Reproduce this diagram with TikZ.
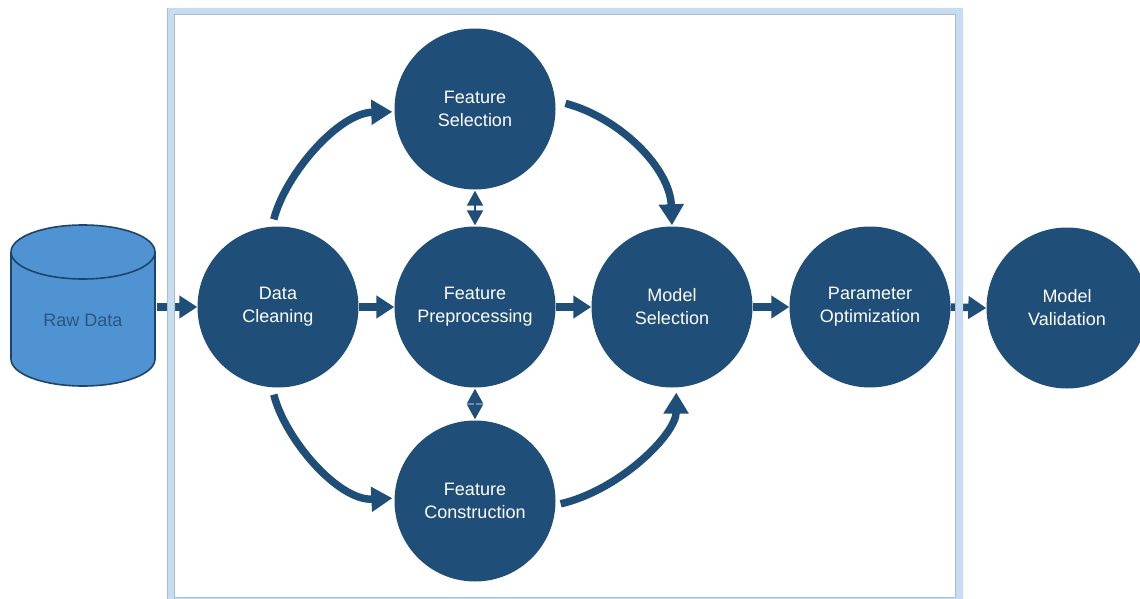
\documentclass[tikz,border=0pt]{standalone}
\usepackage{fontspec}
\setmainfont{Liberation Sans}
\usetikzlibrary{arrows.meta,calc}
\definecolor{nodeblue}{HTML}{1F4E79}
\definecolor{cylfill}{HTML}{5093D3}
\definecolor{cylline}{HTML}{1E4469}
\definecolor{cyltext}{HTML}{2A5682}
\definecolor{framec}{HTML}{C6DCF1}
\definecolor{frameedge}{HTML}{AEBDCC}
\tikzset{
  circnode/.style={circle, fill=nodeblue, minimum size=161pt, inner sep=0pt,
    text=white, align=center, font=\fontsize{18pt}{23pt}\selectfont},
  flowarrow/.style={draw=nodeblue, line width=7.5pt, -{Triangle[length=18pt,width=22pt]}},
  curvearrow/.style={draw=nodeblue, line width=7.5pt, -{Triangle[length=21pt,width=24pt]}},
  duoarrow/.style={draw=nodeblue, line width=2pt, {Triangle[length=15pt,width=16pt]}-{Triangle[length=15pt,width=16pt]}},
}
\begin{document}
\begin{tikzpicture}[x=1pt,y=-1pt]
\useasboundingbox (0,0) rectangle (1140,599);
% cylinder
\filldraw[fill=cylfill, draw=cylline, line width=1.6pt]
  (11,252) -- (11,359) .. controls (11,374) and (43,386) .. (83,386)
  .. controls (123,386) and (155,374) .. (155,359) -- (155,252)
  .. controls (155,237) and (123,225) .. (83,225)
  .. controls (43,225) and (11,237) .. (11,252) -- cycle;
\draw[cylline, line width=1.6pt] (11,252) .. controls (11,267) and (43,279) .. (83,279)
  .. controls (123,279) and (155,267) .. (155,252);
\node[text=cyltext, font=\fontsize{18pt}{23pt}\selectfont] (raw) at (83,320) {Raw Data};
\coordinate (rawr) at (157,307);
% nodes
\node[circnode] (dc) at (278,307) {Data\\Cleaning};
\node[circnode] (fs) at (475,109) {Feature\\Selection};
\node[circnode] (fp) at (475,307) {Feature\\Preprocessing};
\node[circnode] (fc) at (475,501) {Feature\\Construction};
\node[circnode] (ms) at (672,307) {Model\\Selection};
\node[circnode] (po) at (870,307) {Parameter\\Optimization};
\node[circnode] (mv) at (1067,308) {Model\\Validation};
% crossing arrows
\draw[flowarrow] (rawr) -- (dc.west);
\draw[flowarrow] (po.east) -- (mv.west);
% frame band
\fill[framec, even odd rule] (167,8) rectangle (963,602) (175,15) rectangle (955,597);
\draw[frameedge, line width=1pt] (167.5,602) -- (167.5,8.5);
\draw[frameedge, line width=1pt] (174.5,602) -- (174.5,14.5) -- (955.5,14.5) -- (955.5,597.5) -- (174.5,597.5);
% straight arrows
\draw[flowarrow] (dc.east) -- (fp.west);
\draw[flowarrow] (fp.east) -- (ms.west);
\draw[flowarrow] (ms.east) -- (po.west);
% double arrows
\draw[duoarrow] ([yshift=-1pt]fs.south) -- ([yshift=1pt]fp.north);
\draw[duoarrow] ([yshift=-1pt]fp.south) -- ([yshift=1pt]fc.north);
% curved arrows
\draw[curvearrow] ([yshift=7pt]dc.93) .. controls (285,175) and (338,113) .. ([xshift=-2pt]fs.182);
\draw[curvearrow] ([yshift=-7pt]dc.267) .. controls (285,439) and (338,501) .. ([xshift=-2pt]fc.178);
\draw[curvearrow] ([xshift=10pt]fs.4) .. controls (620,118) and (670,168) .. ([yshift=1pt]ms.north);
\draw[curvearrow] ([xshift=5pt]fc.358) .. controls (620,490) and (676,434) .. ([yshift=-5pt]ms.273);
\end{tikzpicture}
\end{document}
